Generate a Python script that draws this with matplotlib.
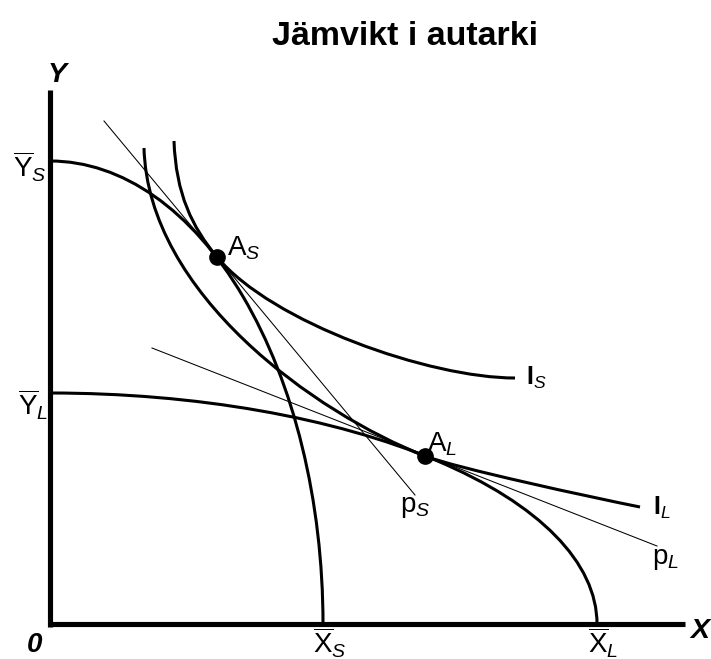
import matplotlib
matplotlib.use("Agg")
import matplotlib.pyplot as plt
from matplotlib.patches import Arc, PathPatch
from matplotlib.path import Path

plt.rcParams['font.family'] = ['Liberation Sans', 'DejaVu Sans']
plt.rcParams['mathtext.fontset'] = 'custom'
plt.rcParams['mathtext.rm'] = 'Liberation Sans'
plt.rcParams['mathtext.it'] = 'Liberation Sans:italic'
plt.rcParams['mathtext.bf'] = 'Liberation Sans:bold'

# ---- data (diagram units, origin at the axes corner) ----
title = "Jämvikt i autarki"
axis_x_end = 635
axis_y_end = 534

# production possibility frontiers: (X intercept, Y intercept)
ppf_small = [273, 463]
ppf_large = [547, 231]

# autarky equilibria A_S, A_L
eq_x = [167, 375]
eq_y = [367, 168]

# price lines p_S, p_L (end points)
price_small_x = [54, 365]
price_small_y = [503, 129]
price_large_x = [102, 607]
price_large_y = [276, 78]

# indifference curves (cubic Bezier control points)
indiff_small_x = [124, 126, 142, 167, 222, 380, 465]
indiff_small_y = [483, 430, 397, 367, 301, 246, 246]
indiff_large_x = [94, 98, 265, 375, 405, 540, 590]
indiff_large_y = [476, 330, 211, 168, 156.2, 127, 117]

fig = plt.figure(figsize=(7.11, 6.59), dpi=100)
ax = fig.add_axes([0, 0, 1, 1])
ax.set_xlim(-50, 661)
ax.set_ylim(-35, 624)
ax.axis('off')

thick = 2.2
thin = 0.75

# axes
ax.plot([0, 0], [-2.5, axis_y_end], color='black', lw=3.7, solid_capstyle='butt')
ax.plot([-2.5, axis_x_end], [0, 0], color='black', lw=3.7, solid_capstyle='butt')

# PPFs
for a, b in (ppf_small, ppf_large):
    ax.add_patch(Arc((0, 0), 2 * a, 2 * b, theta1=0, theta2=90,
                     color='black', lw=thick))

# indifference curves
codes = [Path.MOVETO] + [Path.CURVE4] * 6
for xs, ys in ((indiff_small_x, indiff_small_y), (indiff_large_x, indiff_large_y)):
    p = Path(list(zip(xs, ys)), codes)
    ax.add_patch(PathPatch(p, facecolor='none', edgecolor='black', lw=thick))

# price lines
ax.plot(price_small_x, price_small_y, color='black', lw=thin)
ax.plot(price_large_x, price_large_y, color='black', lw=thin)

# equilibrium points
ax.plot(eq_x, eq_y, 'o', color='black', ms=11, zorder=5)

# text
ax.text(355, 579, title, fontsize=24.5, fontweight='bold', ha='center', va='baseline')
ax.text(7, 542, 'Y', fontsize=20.5, fontweight='bold', fontstyle='italic', ha='center', va='baseline')
ax.text(650, -14, 'X', fontsize=20.5, fontweight='bold', fontstyle='italic', ha='center', va='baseline')
ax.text(-15, -28, '0', fontsize=20, fontweight='bold', fontstyle='italic', ha='center', va='baseline')

fs = 20
ax.text(-37, 446, r'$\overline{\mathrm{Y}}_{\mathit{S}}$', fontsize=fs, ha='left', va='baseline')
ax.text(-32, 208, r'$\overline{\mathrm{Y}}_{\mathit{L}}$', fontsize=fs, ha='left', va='baseline')
ax.text(263, -30, r'$\overline{\mathrm{X}}_{\mathit{S}}$', fontsize=fs, ha='left', va='baseline')
ax.text(538, -30, r'$\overline{\mathrm{X}}_{\mathit{L}}$', fontsize=fs, ha='left', va='baseline')
ax.text(177, 369, r'$\mathrm{A}_{\mathit{S}}$', fontsize=fs, ha='left', va='baseline')
ax.text(377, 172, r'$\mathrm{A}_{\mathit{L}}$', fontsize=fs, ha='left', va='baseline')
ax.text(476, 239, r'$\mathbf{I}_{\mathit{S}}$', fontsize=18, ha='left', va='baseline')
ax.text(603, 109, r'$\mathbf{I}_{\mathit{L}}$', fontsize=18, ha='left', va='baseline')
ax.text(350, 112, r'$\mathrm{p}_{\mathit{S}}$', fontsize=fs, ha='left', va='baseline')
ax.text(602, 60, r'$\mathrm{p}_{\mathit{L}}$', fontsize=fs, ha='left', va='baseline')

fig.savefig('out.png', dpi=100)
